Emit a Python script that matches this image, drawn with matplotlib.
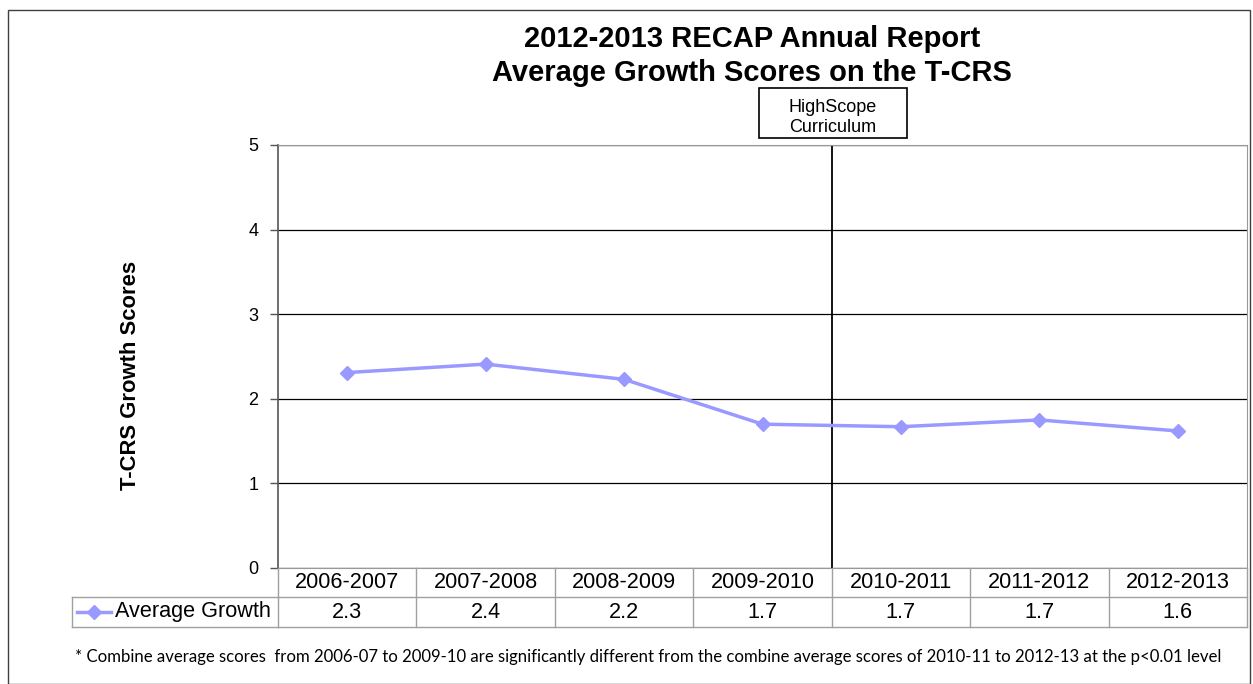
import matplotlib
matplotlib.use("Agg")
import matplotlib.pyplot as plt
from matplotlib.transforms import blended_transform_factory
from matplotlib.lines import Line2D
from matplotlib.patches import Rectangle

categories = ["2006-2007", "2007-2008", "2008-2009", "2009-2010", "2010-2011", "2011-2012", "2012-2013"]
avg_growth = [2.31, 2.41, 2.23, 1.70, 1.67, 1.75, 1.62]
table_labels = ["2.3", "2.4", "2.2", "1.7", "1.7", "1.7", "1.6"]
series_name = "Average Growth"
yticks = [0, 1, 2, 3, 4, 5]

W, H = 1253, 684
fig = plt.figure(figsize=(W / 100, H / 100), dpi=100)
font = "Liberation Sans"
plt.rcParams['font.family'] = [font, 'DejaVu Sans']

def fx(px):
    return px / W

def fy(py):
    return 1 - py / H

ax = fig.add_axes([fx(278), fy(568), fx(1247) - fx(278), fy(145) - fy(568)])
line_color = "#9999FF"
x = list(range(len(categories)))
ax.plot(x, avg_growth, color=line_color, lw=2.5, marker="D", ms=7, zorder=3)
ax.set_xlim(-0.5, len(categories) - 0.5)
ax.set_ylim(0, 5)
ax.set_yticks(yticks)
ax.set_yticklabels([str(t) for t in yticks], fontsize=13)
ax.set_xticks([])
ax.grid(axis="y", color="black", lw=0.9)
ax.set_axisbelow(True)
for s in ["top", "right", "bottom"]:
    ax.spines[s].set_color("#999999")
ax.spines["left"].set_color("#555555")
ax.spines["left"].set_linewidth(1.2)
ax.tick_params(axis="y", length=6, width=1, color="#555555", pad=8)

# HighScope divider line
ax.axvline(3.5, color="black", lw=1.3, zorder=2)

# title
fig.text(fx(752), fy(39), "2012-2013 RECAP Annual Report", ha="center", va="center",
         fontsize=21, fontweight="bold")
fig.text(fx(752), fy(73), "Average Growth Scores on the T-CRS", ha="center", va="center",
         fontsize=21, fontweight="bold")

# HighScope box
fig.patches.append(Rectangle((fx(759), fy(138)), fx(907) - fx(759), fy(88) - fy(138),
                             transform=fig.transFigure, fill=False, ec="black", lw=1.2))
fig.text(fx(833), fy(108), "HighScope", ha="center", va="center", fontsize=13)
fig.text(fx(833), fy(128), "Curriculum", ha="center", va="center", fontsize=13)

# y label
fig.text(fx(130), fy(375), "T-CRS Growth Scores", rotation=90, ha="center", va="center",
         fontsize=15.8, fontweight="bold")

# data table
tr = blended_transform_factory(ax.transData, fig.transFigure)
gray = "#A0A0A0"
y0, y1, y2 = fy(568), fy(597), fy(627)
n = len(categories)
for i in range(n + 1):
    xe = i - 0.5
    fig.lines.append(Line2D([xe, xe], [y0, y2], transform=tr, color=gray, lw=1))
fig.lines.append(Line2D([-0.5, n - 0.5], [y1, y1], transform=tr, color=gray, lw=1))
fig.lines.append(Line2D([-0.5, n - 0.5], [y2, y2], transform=tr, color=gray, lw=1))
fig.lines.append(Line2D([fx(72), fx(278)], [y1, y1], transform=fig.transFigure, color=gray, lw=1))
fig.lines.append(Line2D([fx(72), fx(278)], [y2, y2], transform=fig.transFigure, color=gray, lw=1))
fig.lines.append(Line2D([fx(72), fx(72)], [y1, y2], transform=fig.transFigure, color=gray, lw=1))
for i, (c, v) in enumerate(zip(categories, table_labels)):
    fig.text(i, (y0 + y1) / 2, c, transform=tr, ha="center", va="center", fontsize=15.6)
    fig.text(i, (y1 + y2) / 2, v, transform=tr, ha="center", va="center", fontsize=15.6)
ym = (y1 + y2) / 2
fig.lines.append(Line2D([fx(77), fx(111)], [ym, ym], transform=fig.transFigure,
                        color=line_color, lw=2.5))
fig.lines.append(Line2D([fx(94)], [ym], transform=fig.transFigure, color=line_color,
                        marker="D", ms=7, lw=0))
fig.text(fx(115), ym, series_name, ha="left", va="center", fontsize=15.6)

# footnote
fig.text(fx(75), fy(657), "* Combine average scores  from 2006-07 to 2009-10 are significantly different from the combine average scores of 2010-11 to 2012-13 at the p<0.01 level",
         ha="left", va="center", fontsize=12.05, family=["Lato", "DejaVu Sans"])

# outer frame
fig.patches.append(Rectangle((fx(8), fy(684)), fx(1250) - fx(8), fy(10) - fy(684),
                             transform=fig.transFigure, fill=False, ec="#404040", lw=1))

fig.savefig("out.png", dpi=100)
